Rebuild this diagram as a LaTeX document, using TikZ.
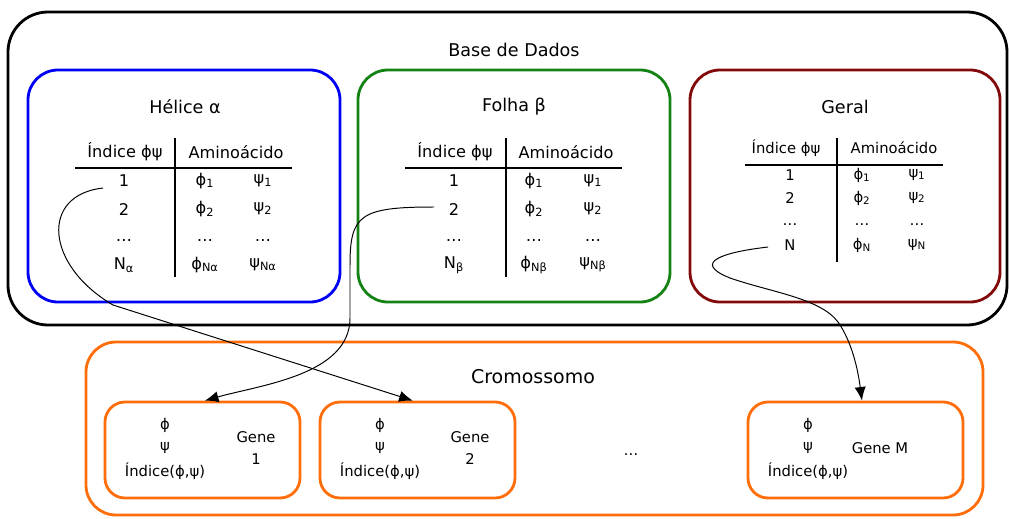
\documentclass[tikz,border=0pt]{standalone}
\usepackage{fontspec}
\setmainfont{DejaVu Sans}
\usepackage{xcolor}
\usetikzlibrary{arrows.meta}
\definecolor{helixblue}{RGB}{0,0,245}
\definecolor{sheetgreen}{RGB}{20,130,20}
\definecolor{generalred}{RGB}{130,10,10}
\definecolor{chromorange}{RGB}{255,110,10}
\tikzset{>={Latex[length=3.4mm,width=2.8mm]}}

\begin{document}
\begin{tikzpicture}[x=0.25mm, y=-0.25mm,
  panel/.style={draw, line width=2pt, rounded corners=7.5mm, minimum width=78mm, minimum height=58mm},
  gene/.style={draw=chromorange, line width=2pt, rounded corners=5mm, minimum width=48.75mm, minimum height=24mm},
  title/.style={font=\fontsize{12.5}{14}\selectfont},
  cell/.style={font=\fontsize{11.5}{13}\selectfont, inner sep=0pt},
  small/.style={font=\fontsize{10.5}{12}\selectfont, inner sep=0pt},
  link/.style={->, line width=0.7pt}]
  \useasboundingbox (0,0) rectangle (1009,518);

  % Boxes
  \node[draw, line width=2pt, rounded corners=10mm, minimum width=249.75mm, minimum height=78.25mm] (db) at (507.5,168.5) {};
  \node[panel, draw=helixblue] (helix) at (184,186) {};
  \node[panel, draw=sheetgreen] (sheet) at (514,186) {};
  \node[panel, draw=generalred, minimum width=77.5mm] (general) at (845,186) {};
  \node[draw=chromorange, line width=2pt, rounded corners=7.5mm, minimum width=224.25mm, minimum height=43.25mm] (chrom) at (534.5,428.5) {};
  \node[gene] (gene1) at (202.5,450) {};
  \node[gene] (gene2) at (417.5,450) {};
  \node[gene, minimum width=53.75mm] (geneM) at (855.5,450) {};

  % Titles
  \node[title] (dbtitle) at (514,50) {Base de Dados};
  \node[title] (helixtitle) at (185,107) {Hélice α};
  \node[title] (sheettitle) at (514,107) {Folha β};
  \node[title] (generaltitle) at (845,107) {Geral};
  \node[font=\fontsize{13.5}{15}\selectfont] (chromtitle) at (533,377) {Cromossomo};

  % Helice table
  \node[cell] (ha-head1) at (125,152) {Índice ϕψ};
  \node[cell] (ha-head2) at (236,152) {Aminoácido};
  \draw[line width=1pt] (175,138) -- (175,277);
  \draw[line width=1pt] (75,168) -- (292,168);
  \foreach \y/\i/\p/\s [count=\r] in {181/1/ϕ\textsubscript{1}/ψ\textsubscript{1},
      209/2/ϕ\textsubscript{2}/ψ\textsubscript{2}, 240/…/…/…,
      265/N\textsubscript{α}/ϕ\textsubscript{Nα}/ψ\textsubscript{Nα}} {
    \node[cell] (ha-i\r) at (124,\y) {\i};
    \node[cell] (ha-p\r) at (205,\y) {\p};
    \node[cell] (ha-s\r) at (263,\y) {\s};
  }

  % Folha table
  \node[cell] (fb-head1) at (455,152) {Índice ϕψ};
  \node[cell] (fb-head2) at (566,152) {Aminoácido};
  \draw[line width=1pt] (506,138) -- (506,277);
  \draw[line width=1pt] (405,168) -- (622,168);
  \foreach \y/\i/\p/\s [count=\r] in {181/1/ϕ\textsubscript{1}/ψ\textsubscript{1},
      209/2/ϕ\textsubscript{2}/ψ\textsubscript{2}, 240/…/…/…,
      265/N\textsubscript{β}/ϕ\textsubscript{Nβ}/ψ\textsubscript{Nβ}} {
    \node[cell] (fb-i\r) at (454,\y) {\i};
    \node[cell] (fb-p\r) at (534,\y) {\p};
    \node[cell] (fb-s\r) at (593,\y) {\s};
  }

  % Geral table
  \node[small] (ge-head1) at (786,148) {Índice ϕψ};
  \node[small] (ge-head2) at (894,148) {Aminoácido};
  \draw[line width=1pt] (837,138) -- (837,262);
  \draw[line width=1pt] (745,165) -- (943,165);
  \foreach \y/\i/\p/\s [count=\r] in {175/1/ϕ\textsubscript{1}/ψ\textsubscript{1},
      198/2/ϕ\textsubscript{2}/ψ\textsubscript{2}, 225/…/…/…,
      245/N/ϕ\textsubscript{N}/ψ\textsubscript{N}} {
    \node[small] (ge-i\r) at (790,\y) {\i};
    \node[small] (ge-p\r) at (862,\y) {\p};
    \node[small] (ge-s\r) at (917,\y) {\s};
  }

  % Genes
  \foreach \g/\x in {gene1/165, gene2/380, geneM/808} {
    \node[small] (\g-phi) at (\x,425) {ϕ};
    \node[small] (\g-psi) at (\x,448) {ψ};
    \node[small] (\g-idx) at (\x,471) {Índice(ϕ,ψ)};
  }
  \node[small, align=center] (gene1-lbl) at (256,448) {Gene\\[4pt]1};
  \node[small, align=center] (gene2-lbl) at (470,448) {Gene\\[4pt]2};
  \node[small] (geneM-lbl) at (880,448) {Gene M};
  \node[small] (gene-dots) at (631,455) {…};

  % Links
  \coordinate (ha-start) at (103,188);
  \coordinate (fb-start) at (434,207);
  \coordinate (ge-start) at (768,247);
  \draw[link] (ha-start) .. controls (40,195) and (45,265) .. (113,305) -- ([xshift=-1.2mm]gene2.north);
  \draw[link] (fb-start) .. controls (360,207) and (350,215) .. (350,265)
    -- (350,318) .. controls (350,375) and (260,385) .. ([xshift=0.6mm]gene1.north);
  \draw[link] (ge-start) .. controls (725,252) and (690,262) .. (730,278)
    .. controls (770,292) and (820,298) .. (838,322) .. controls (852,342) and (858,370) .. ([xshift=1.6mm]geneM.north);
\end{tikzpicture}
\end{document}
